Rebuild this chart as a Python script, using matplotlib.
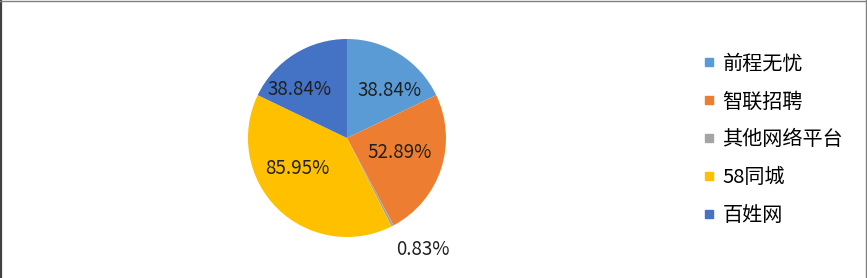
import matplotlib
matplotlib.use("Agg")
import matplotlib.pyplot as plt
from matplotlib.lines import Line2D
import numpy as np

plt.rcParams['font.family'] = ['Noto Sans CJK SC', 'DejaVu Sans']

categories = ['前程无忧', '智联招聘', '其他网络平台', '58同城', '百姓网']
values = [38.84, 52.89, 0.83, 85.95, 38.84]
value_labels = ['38.84%', '52.89%', '0.83%', '85.95%', '38.84%']
colors = ['#5B9BD5', '#ED7D31', '#A5A5A5', '#FFC000', '#4472C4']

# label placement (angle from top clockwise in degrees, radius fraction)
label_angles = [42, 105, 145.6, 239, 315.6]
label_radii = [0.65, 0.55, 1.36, 0.59, 0.68]

fig = plt.figure(figsize=(8.67, 2.78), dpi=100)
ax = fig.add_axes([0.286, 0.1475, 0.2284, 0.7122])
ax.pie(values, colors=colors, startangle=90, counterclock=False,
       radius=1, wedgeprops=dict(linewidth=0))
ax.set_xlim(-1, 1)
ax.set_ylim(-1, 1)
ax.set_aspect('auto')
ax.axis('off')

for lab, a, r in zip(value_labels, label_angles, label_radii):
    t = np.deg2rad(a)
    ax.text(r * np.sin(t), r * np.cos(t), lab, ha='center', va='center',
            fontsize=13.5, color='#202020', clip_on=False)

handles = [Line2D([0], [0], marker='s', linestyle='none', markersize=6,
                  markerfacecolor=c, markeredgecolor=c) for c in colors]
fig.legend(handles, categories, loc='center left', bbox_to_anchor=(0.809, 0.497),
           frameon=False, fontsize=14.5, labelspacing=0.84, handletextpad=0.25,
           handlelength=0.8, borderaxespad=0, borderpad=0)

# frame lines
fig.add_artist(Line2D([0.0015, 0.0015], [0, 1], transform=fig.transFigure,
                      color='#404040', linewidth=1.6))
fig.add_artist(Line2D([0, 1], [0.998, 0.998], transform=fig.transFigure,
                      color='#808080', linewidth=1.0))
fig.add_artist(Line2D([0.9985, 0.9985], [0, 1], transform=fig.transFigure,
                      color='#808080', linewidth=1.0))

fig.savefig('out.png', dpi=100)
